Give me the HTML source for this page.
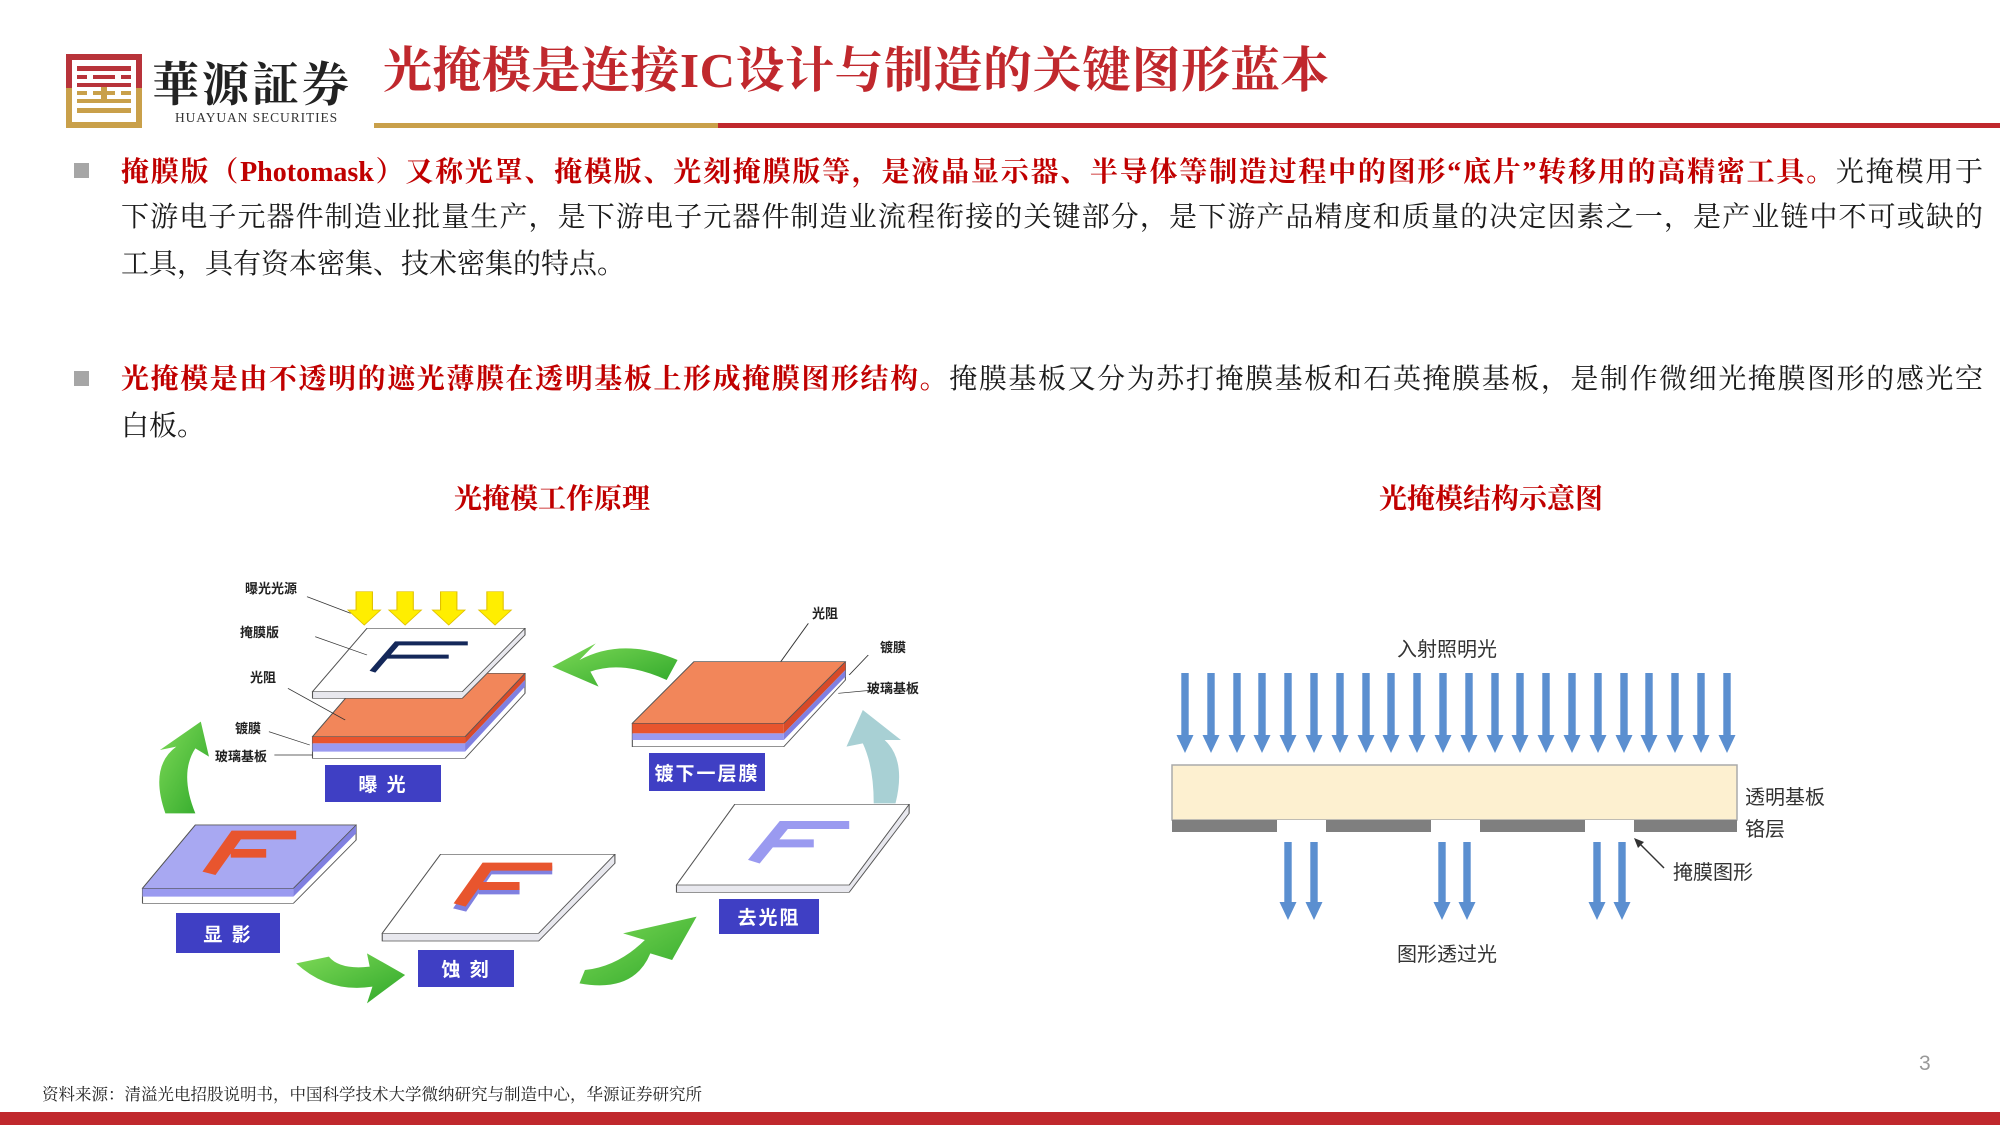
<!DOCTYPE html>
<html><head><meta charset="utf-8">
<style>
*{margin:0;padding:0;box-sizing:border-box}
body{width:2000px;height:1125px;position:relative;background:#fff;overflow:hidden;font-family:"Liberation Serif","Noto Serif CJK SC",serif}
.a{position:absolute;white-space:nowrap}
.ln{position:absolute;left:121px;width:1862px;font-size:28px;line-height:34px;color:#1a1a1a;text-align:justify;text-align-last:justify;white-space:nowrap}
.ln.last{text-align-last:left}
.r{color:#c00000;font-weight:bold}
.sq{position:absolute;width:15px;height:15px;background:#a6a6a6}
.lab{position:absolute;font-family:"Liberation Sans","Noto Sans CJK SC",sans-serif;font-size:13px;font-weight:bold;color:#222;white-space:nowrap}
.box{position:absolute;background:#3f3fc4;color:#fff;font-family:"Liberation Sans","Noto Sans CJK SC",sans-serif;font-weight:bold;font-size:19px;display:flex;align-items:center;justify-content:center;letter-spacing:2px}
.t2{position:absolute;font-family:"Liberation Sans","Noto Sans CJK SC",sans-serif;font-size:20px;color:#333;white-space:nowrap}
</style></head><body>

<svg class="a" style="left:66px;top:54px" width="76" height="74" viewBox="0 0 76 74">
<rect x="0" y="0" width="76" height="74" fill="#c9a04a"/>
<rect x="0" y="0" width="76" height="34" fill="#b8333a"/>
<rect x="6" y="6" width="64" height="62" fill="#fff"/>
<g fill="#b8333a"><rect x="11" y="12" width="54" height="5"/><rect x="11" y="21" width="10" height="4"/><rect x="27" y="21" width="22" height="4"/><rect x="55" y="21" width="10" height="4"/><rect x="11" y="29" width="54" height="4"/></g>
<g fill="#c9a04a"><rect x="11" y="37" width="10" height="4"/><rect x="55" y="37" width="10" height="4"/><rect x="27" y="37" width="22" height="4"/><rect x="11" y="45" width="54" height="4"/><rect x="11" y="54" width="54" height="5"/><rect x="35" y="33" width="6" height="16"/></g>
</svg>
<div class="a" style="left:152px;top:52px;font-size:47px;font-weight:bold;color:#222;letter-spacing:3px;font-family:'Noto Serif CJK SC',serif;line-height:60px">華源証券</div>
<div class="a" style="left:175px;top:110px;font-size:13.5px;color:#333;letter-spacing:0.9px">HUAYUAN SECURITIES</div>
<div class="a" style="left:383px;top:41px;font-size:49px;letter-spacing:0.5px;color:#c0282d;font-family:'Liberation Serif','Noto Serif CJK SC',serif;font-weight:bold;line-height:60px">光掩模是连接IC设计与制造的关键图形蓝本</div>
<div class="a" style="left:374px;top:123px;width:344px;height:5px;background:#c9a04a"></div>
<div class="a" style="left:718px;top:123px;width:1282px;height:5px;background:#c0282d"></div>

<div class="sq" style="left:74px;top:163px"></div>
<div class="ln" style="top:156px"><span class="r">掩膜版（Photomask）又称光罩、掩模版、光刻掩膜版等，是液晶显示器、半导体等制造过程中的图形“底片”转移用的高精密工具。</span>光掩模用于</div>
<div class="ln" style="top:201px">下游电子元器件制造业批量生产，是下游电子元器件制造业流程衔接的关键部分，是下游产品精度和质量的决定因素之一，是产业链中不可或缺的</div>
<div class="ln last" style="top:248px">工具，具有资本密集、技术密集的特点。</div>

<div class="sq" style="left:74px;top:371px"></div>
<div class="ln" style="top:363px"><span class="r">光掩模是由不透明的遮光薄膜在透明基板上形成掩膜图形结构。</span>掩膜基板又分为苏打掩膜基板和石英掩膜基板，是制作微细光掩膜图形的感光空</div>
<div class="ln last" style="top:410px">白板。</div>

<div class="a" style="left:432px;top:477px;width:240px;text-align:center;font-size:28px;font-weight:bold;color:#c00000">光掩模工作原理</div>
<div class="a" style="left:1351px;top:477px;width:280px;text-align:center;font-size:28px;font-weight:bold;color:#c00000">光掩模结构示意图</div>

<svg class="a" style="left:100px;top:560px" width="850" height="460" viewBox="0 0 1560 1380" preserveAspectRatio="none">
<defs><linearGradient id="g" x1="0" y1="0" x2="1" y2="1"><stop offset="0" stop-color="#7ed957"/><stop offset="1" stop-color="#2fa82a"/></linearGradient></defs>
<g fill="#ffee00" stroke="#e0c000" stroke-width="2">
<polygon points="470,95 500,95 500,150 515,150 485,195 455,150 470,150"/>
<polygon points="545,95 575,95 575,150 590,150 560,195 530,150 545,150"/>
<polygon points="625,95 655,95 655,150 670,150 640,195 610,150 625,150"/>
<polygon points="710,95 740,95 740,150 755,150 725,195 695,150 710,150"/>
</g>
<polygon points="490,340 780,340 780,400 670,595 390,595 390,530" fill="#fff" stroke="#555" stroke-width="2"/>
<polygon points="390,530 670,530 670,550 390,550" fill="#e8552e"/>
<polygon points="390,550 670,550 670,575 390,575" fill="#9a9af0"/>
<polygon points="670,530 780,340 780,360 670,550" fill="#d84a28"/>
<polygon points="670,550 780,360 780,380 670,575" fill="#8080e0"/>
<polygon points="490,340 780,340 670,530 390,530" fill="#f2865a" stroke="#555" stroke-width="2"/>
<polygon points="490,205 780,205 780,225 665,415 390,415 390,395" fill="#e8e8ee" stroke="#555" stroke-width="2"/>
<polygon points="490,205 780,205 665,395 390,395" fill="#fff" stroke="#555" stroke-width="2"/>
<path d="M500,335 L545,250 L675,250 M525,290 L640,290" stroke="#14285a" stroke-width="12" fill="none"/>
<g stroke="#333" stroke-width="2"><line x1="380" y1="110" x2="460" y2="160"/><line x1="395" y1="230" x2="490" y2="285"/><line x1="345" y1="385" x2="450" y2="480"/><line x1="310" y1="515" x2="385" y2="555"/><line x1="320" y1="585" x2="390" y2="585"/>
<line x1="1300" y1="190" x2="1245" y2="315"/><line x1="1410" y1="285" x2="1375" y2="345"/><line x1="1420" y1="390" x2="1355" y2="400"/></g>
<polygon points="1090,305 1368,305 1368,360 1255,560 977,560 977,490" fill="#fff" stroke="#555" stroke-width="2"/>
<polygon points="977,490 1255,490 1255,520 977,520" fill="#e8552e"/>
<polygon points="977,520 1255,520 1255,540 977,540" fill="#9a9af0"/>
<polygon points="1255,490 1368,305 1368,330 1255,520" fill="#d84a28"/>
<polygon points="1255,520 1368,330 1368,350 1255,540" fill="#8080e0"/>
<polygon points="1090,305 1368,305 1255,490 977,490" fill="#f2865a" stroke="#555" stroke-width="2"/>
<polygon points="175,795 470,795 470,840 355,1030 78,1030 78,985" fill="#fff" stroke="#555" stroke-width="2"/>
<polygon points="78,985 355,985 355,1010 78,1010" fill="#9a9af0"/>
<polygon points="355,985 470,795 470,820 355,1010" fill="#8080e0"/>
<polygon points="175,795 470,795 355,985 78,985" fill="#a8a8f2" stroke="#555" stroke-width="2"/>
<path d="M200,940 L250,825 L360,825 M240,880 L305,880" stroke="#e8552e" stroke-width="26" fill="none"/>
<polygon points="625,883 945,883 945,910 805,1143 518,1143 518,1120" fill="#e8e8ee" stroke="#555" stroke-width="2"/>
<polygon points="625,883 945,883 805,1120 518,1120" fill="#fff" stroke="#555" stroke-width="2"/>
<path d="M660,1050 L710,930 L830,930 M695,990 L770,990" stroke="#8080e0" stroke-width="26" fill="none"/>
<path d="M660,1035 L710,920 L830,920 M695,978 L770,978" stroke="#e8552e" stroke-width="24" fill="none"/>
<polygon points="1165,733 1485,733 1485,760 1375,997 1058,997 1058,975" fill="#e8e8ee" stroke="#555" stroke-width="2"/>
<polygon points="1165,733 1485,733 1375,975 1058,975" fill="#fff" stroke="#555" stroke-width="2"/>
<path d="M1200,905 L1255,795 L1375,795 M1235,850 L1310,850" stroke="#9a9af0" stroke-width="24" fill="none"/>
<path d="M1060,300 Q960,230 880,300 L910,250 L830,320 L915,380 L900,335 Q960,300 1040,360 Z" fill="url(#g)"/>
<path d="M120,760 Q90,620 140,560 L110,570 L185,485 L200,590 L175,565 Q145,640 175,760 Z" fill="url(#g)"/>
<path d="M360,1210 Q420,1300 500,1280 L490,1330 L560,1245 L490,1180 L495,1220 Q440,1230 420,1190 Z" fill="url(#g)"/>
<path d="M880,1270 Q980,1300 1010,1180 L1050,1200 L1095,1070 L960,1120 L1000,1140 Q950,1220 890,1230 Z" fill="url(#g)"/>
<path d="M1460,730 Q1480,600 1440,540 L1470,540 L1400,450 L1370,560 L1400,550 Q1420,620 1420,730 Z" fill="#a8d0d4"/>
</svg>
<div class="lab" style="left:245px;top:578px">曝光光源</div>
<div class="lab" style="left:240px;top:622px">掩膜版</div>
<div class="lab" style="left:250px;top:667px">光阻</div>
<div class="lab" style="left:235px;top:718px">镀膜</div>
<div class="lab" style="left:215px;top:746px">玻璃基板</div>
<div class="lab" style="left:812px;top:603px">光阻</div>
<div class="lab" style="left:880px;top:637px">镀膜</div>
<div class="lab" style="left:867px;top:678px">玻璃基板</div>
<div class="box" style="left:325px;top:765px;width:116px;height:37px">曝 光</div>
<div class="box" style="left:649px;top:753px;width:116px;height:38px">镀下一层膜</div>
<div class="box" style="left:176px;top:913px;width:104px;height:40px">显 影</div>
<div class="box" style="left:418px;top:950px;width:96px;height:37px">蚀 刻</div>
<div class="box" style="left:719px;top:899px;width:100px;height:35px">去光阻</div>

<svg class="a" style="left:0;top:0" width="2000" height="1125">
<defs><polygon id="ar" points="-3.7,673 3.7,673 3.7,735 8.5,735 0,753 -8.5,735 -3.7,735" fill="#5b8fd0"/>
<polygon id="ab" points="-3.7,842 3.7,842 3.7,902 8.5,902 0,920 -8.5,902 -3.7,902" fill="#5b8fd0"/></defs>
<g>
<use href="#ar" x="1185"/><use href="#ar" x="1211"/><use href="#ar" x="1237"/><use href="#ar" x="1262"/><use href="#ar" x="1288"/><use href="#ar" x="1314"/><use href="#ar" x="1340"/><use href="#ar" x="1366"/><use href="#ar" x="1391"/><use href="#ar" x="1417"/><use href="#ar" x="1443"/><use href="#ar" x="1469"/><use href="#ar" x="1495"/><use href="#ar" x="1520"/><use href="#ar" x="1546"/><use href="#ar" x="1572"/><use href="#ar" x="1598"/><use href="#ar" x="1624"/><use href="#ar" x="1649"/><use href="#ar" x="1675"/><use href="#ar" x="1701"/><use href="#ar" x="1727"/>
</g>
<rect x="1172" y="765" width="565" height="55" fill="#fdf0d0" stroke="#aaa" stroke-width="1.5"/>
<rect x="1172" y="820" width="565" height="12" fill="#7f7f7f"/>
<rect x="1277" y="820" width="49" height="12" fill="#fff"/>
<rect x="1431" y="820" width="49" height="12" fill="#fff"/>
<rect x="1585" y="820" width="49" height="12" fill="#fff"/>
<use href="#ab" x="1288"/><use href="#ab" x="1314"/><use href="#ab" x="1442"/><use href="#ab" x="1467"/><use href="#ab" x="1597"/><use href="#ab" x="1622"/>
<line x1="1664" y1="868" x2="1636" y2="840" stroke="#333" stroke-width="1.5"/>
<polygon points="1634,838 1644,842 1638,848" fill="#333"/>
</svg>
<div class="t2" style="left:1397px;top:633px">入射照明光</div>
<div class="t2" style="left:1397px;top:938px">图形透过光</div>
<div class="t2" style="left:1745px;top:781px">透明基板</div>
<div class="t2" style="left:1745px;top:813px">铬层</div>
<div class="t2" style="left:1673px;top:856px">掩膜图形</div>

<div class="a" style="left:1919px;top:1052px;font-size:21px;color:#999;font-family:'Liberation Sans',sans-serif">3</div>
<div class="a" style="left:42px;top:1081px;font-size:16.5px;color:#222">资料来源：清溢光电招股说明书，中国科学技术大学微纳研究与制造中心，华源证券研究所</div>
<div class="a" style="left:0;top:1112px;width:2000px;height:13px;background:#c0282d"></div>
</body></html>
